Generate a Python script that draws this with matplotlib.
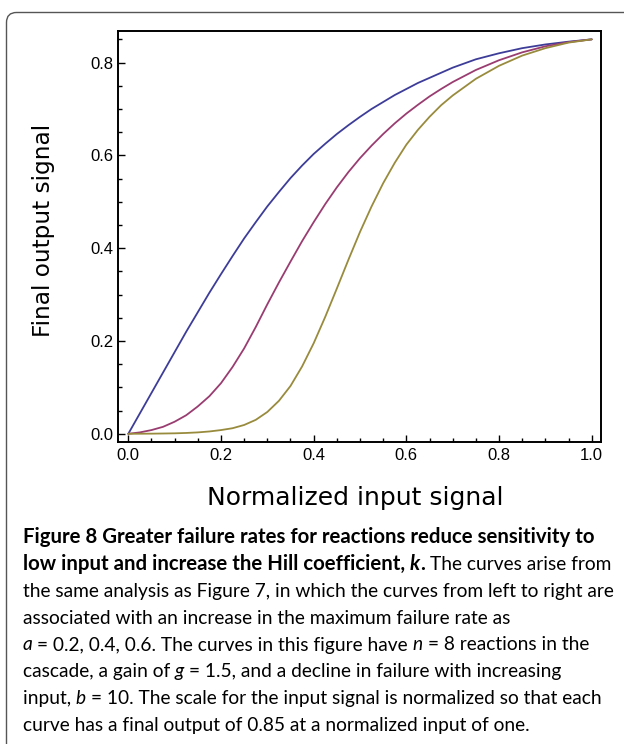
import matplotlib
matplotlib.use("Agg")
import matplotlib.pyplot as plt
from matplotlib.patches import FancyBboxPatch
from matplotlib.ticker import MultipleLocator, FormatStrFormatter
from matplotlib.transforms import IdentityTransform

# ------------------------------------------------------------------
# Curves (a = 0.2, 0.4, 0.6)
# ------------------------------------------------------------------
input_x = [0.0, 0.025, 0.05, 0.075, 0.1, 0.125, 0.15, 0.175, 0.2, 0.225, 0.25,
           0.275, 0.3, 0.325, 0.35, 0.375, 0.4, 0.425, 0.45, 0.475, 0.5,
           0.525, 0.55, 0.575, 0.6, 0.625, 0.65, 0.675, 0.7,
           0.75, 0.8, 0.85, 0.9, 0.95, 1.0]
out_a02 = [0.0, 0.044, 0.088, 0.132, 0.176, 0.220, 0.262, 0.304, 0.344, 0.383, 0.421,
           0.456, 0.490, 0.521, 0.551, 0.578, 0.603, 0.625, 0.646, 0.665, 0.683,
           0.700, 0.715, 0.730, 0.743, 0.756, 0.767, 0.778, 0.789,
           0.807, 0.820, 0.831, 0.839, 0.845, 0.850]
out_a04 = [0.0, 0.003, 0.008, 0.015, 0.026, 0.040, 0.059, 0.081, 0.109, 0.144, 0.184,
           0.230, 0.279, 0.326, 0.371, 0.415, 0.456, 0.495, 0.531, 0.564, 0.594,
           0.621, 0.646, 0.669, 0.690, 0.709, 0.727, 0.743, 0.758,
           0.784, 0.805, 0.822, 0.835, 0.844, 0.850]
out_a06 = [0.0, 0.0001, 0.0003, 0.0006, 0.001, 0.0018, 0.003, 0.005, 0.008, 0.012, 0.019,
           0.030, 0.047, 0.071, 0.103, 0.145, 0.195, 0.252, 0.313, 0.375, 0.435,
           0.490, 0.540, 0.584, 0.623, 0.655, 0.683, 0.708, 0.729,
           0.765, 0.793, 0.815, 0.831, 0.843, 0.850]

C_BLUE = (0.24, 0.24, 0.6)
C_MAG = (0.6, 0.24, 0.4428)
C_OLIVE = (0.6, 0.547, 0.24)

caption_lines = [
    [("Figure 8 Greater failure rates for reactions reduce sensitivity to", "b")],
    [("low input and increase the Hill coefficient, ", "b"), ("k", "bi"), (".", "b"),
     (" The curves arise from", "r")],
    [("the same analysis as Figure 7, in which the curves from left to right are", "r")],
    [("associated with an increase in the maximum failure rate as", "r")],
    [("a", "i"), (" = 0.2, 0.4, 0.6. The curves in this figure have ", "r"), ("n", "i"),
     (" = 8 reactions in the", "r")],
    [("cascade, a gain of ", "r"), ("g", "i"),
     (" = 1.5, and a decline in failure with increasing", "r")],
    [("input, ", "r"), ("b", "i"),
     (" = 10. The scale for the input signal is normalized so that each", "r")],
    [("curve has a final output of 0.85 at a normalized input of one.", "r")],
]

# ------------------------------------------------------------------
# Figure
# ------------------------------------------------------------------
W, H = 624, 744
fig = plt.figure(figsize=(W / 100, H / 100), dpi=100)


def fx(px):
    return px / W


def fy(py):
    return 1 - py / H


# rounded panel border (pixel coords)
frame = FancyBboxPatch((6.5, -30), 700, H - 12.5 + 30,
                       boxstyle="round,pad=0,rounding_size=10",
                       facecolor="none", edgecolor="#555555", lw=1.0,
                       transform=IdentityTransform())
fig.add_artist(frame)

ax = fig.add_axes([fx(118), fy(442), (600.7 - 118) / W, (442 - 31) / H])
for ys, c in [(out_a02, C_BLUE), (out_a04, C_MAG), (out_a06, C_OLIVE)]:
    ax.plot(input_x, ys, color=c, lw=1.3, solid_joinstyle="round",
            solid_capstyle="round")

ax.set_xlim(-0.0222, 1.0194)
ax.set_ylim(-0.0177, 0.868)
ax.xaxis.set_major_locator(MultipleLocator(0.2))
ax.xaxis.set_minor_locator(MultipleLocator(0.05))
ax.yaxis.set_major_locator(MultipleLocator(0.2))
ax.yaxis.set_minor_locator(MultipleLocator(0.05))
ax.xaxis.set_major_formatter(FormatStrFormatter("%.1f"))
ax.yaxis.set_major_formatter(FormatStrFormatter("%.1f"))
ax.tick_params(which="both", direction="in", top=False, right=False, width=1.0)
ax.tick_params(which="major", length=5)
ax.tick_params(which="minor", length=3)
ax.tick_params(axis="y", pad=3)
ax.tick_params(axis="x", pad=4)
for lab in ax.get_xticklabels() + ax.get_yticklabels():
    lab.set_family("Liberation Sans")
    lab.set_fontsize(12)
for sp in ax.spines.values():
    sp.set_linewidth(1.4)

fig.text(fx(355), fy(505), "Normalized input signal", ha="center", va="baseline",
         fontsize=18, family="DejaVu Sans")
fig.text(fx(44), fy(230), "Final output signal", ha="center", va="center",
         rotation=90, fontsize=16.7, family="DejaVu Sans")

# ------------------------------------------------------------------
# Caption
# ------------------------------------------------------------------
renderer = fig.canvas.get_renderer()
STYLES = {"r": dict(fontweight="normal", fontstyle="normal"),
          "b": dict(fontweight="bold", fontstyle="normal"),
          "i": dict(fontweight="normal", fontstyle="italic"),
          "bi": dict(fontweight="bold", fontstyle="italic")}
CAP_FONT = "Lato"


def seg_width(s, style, size):
    props = dict(family=CAP_FONT, fontsize=size, **STYLES[style])
    t1 = fig.text(0, 0, "|" + s + "|", **props)
    t2 = fig.text(0, 0, "||", **props)
    w = t1.get_window_extent(renderer).width - t2.get_window_extent(renderer).width
    t1.remove()
    t2.remove()
    return w


# regular text sized to the longest plain line, bold text to the title line
reg_size = 10 * 590 / seg_width(caption_lines[2][0][0], "r", 10)
bold_size = 10 * 572 / seg_width(caption_lines[0][0][0], "b", 10)

x0, base0, lead = 22.7, 543.3, 26.8
for i, line in enumerate(caption_lines):
    x = x0
    for s, style in line:
        size = bold_size if "b" in style else reg_size
        body = s.lstrip(" ")
        if body != s:
            x += seg_width(s[:len(s) - len(body)], style, size)
        fig.text(fx(x), fy(base0 + i * lead), body, ha="left", va="baseline",
                 family=CAP_FONT, fontsize=size, **STYLES[style])
        x += seg_width(body, style, size)

fig.savefig("out.png", dpi=100)
